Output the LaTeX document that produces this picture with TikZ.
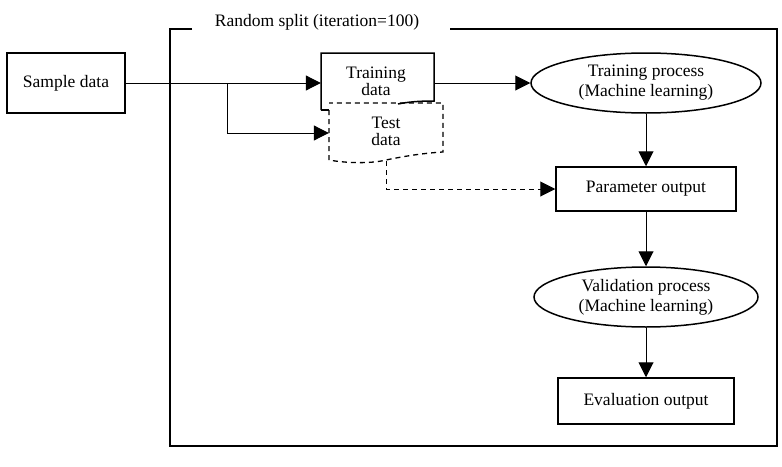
\documentclass[tikz,border=0pt]{standalone}
\usepackage{fontspec}
\setmainfont{Liberation Serif}
\usetikzlibrary{arrows.meta,shapes.geometric}
\begin{document}
\begin{tikzpicture}[x=1pt,y=-1pt,
  txt/.style={font=\fontsize{17.5}{20}\selectfont, align=center, inner sep=0pt},
  box/.style={txt, draw, line width=1.5pt, fill=white},
  oval/.style={txt, ellipse, draw, line width=1.5pt, fill=white},
  outl/.style={line width=1.5pt},
  doutl/.style={line width=1.3pt, dash pattern=on 5pt off 4pt},
  conn/.style={line width=1pt, -{Triangle[length=15pt,width=15pt]}},
  dconn/.style={line width=1pt, dash pattern=on 5pt off 4pt, -{Triangle[length=15pt,width=15pt]}},
  frame/.style={line width=1.8pt}]
\useasboundingbox (0,0) rectangle (782,466);
% frame
\node[txt] (title) at (317,22) {Random split (iteration=100)};
\draw[frame] (192,29) -- (170,29) -- (170,446) -- (777,446) -- (777,29) -- (450,29);
% sample
\node[box, minimum width=118pt, minimum height=60pt] (sample) at (66,83) {Sample data};
% training data (document shape)
\node[txt, minimum width=113pt, minimum height=60pt] (train) at (377.5,83) {};
\node[txt, font=\fontsize{17.5}{17}\selectfont] (trainlbl) at (376,81) {Training\\data};
\draw[outl] (321,110) -- (321,53) -- (434,53) -- (434,101) .. controls (418,101) and (408,102) .. (398,104);
\draw[outl] (321,110) -- (329,110);
% test data (dashed document shape)
\node[txt, minimum width=114pt, minimum height=40pt] (test) at (386,133) {};
\node[txt, font=\fontsize{17.5}{17}\selectfont] (testlbl) at (386,131) {Test\\data};
\draw[doutl] (329,110) -- (329,160) .. controls (345,163) and (370,164) .. (386,160) .. controls (405,156) and (425,153) .. (443,152) -- (443,103) -- (329,103);
\coordinate (testbot) at (386,161);
% process nodes
\node[oval, minimum width=230pt, minimum height=60pt] (tp) at (646,83) {Training process\\(Machine learning)};
\node[box, minimum width=180pt, minimum height=44pt] (param) at (646,189) {Parameter output};
\node[oval, minimum width=224pt, minimum height=60pt] (val) at (646,297) {Validation process\\(Machine learning)};
\node[box, minimum width=176pt, minimum height=46pt] (eval) at (646,401) {Evaluation output};
% connectors
\coordinate (split) at (227,83);
\draw[conn] (sample.east) -- (train.west);
\draw[conn] (split) |- (test.west);
\draw[conn] (train.east) -- (tp.west);
\draw[conn] (tp.south) -- (param.north);
\draw[dconn] (testbot) |- (param.west);
\draw[conn] (param.south) -- (val.north);
\draw[conn] (val.south) -- (eval.north);
\end{tikzpicture}
\end{document}
